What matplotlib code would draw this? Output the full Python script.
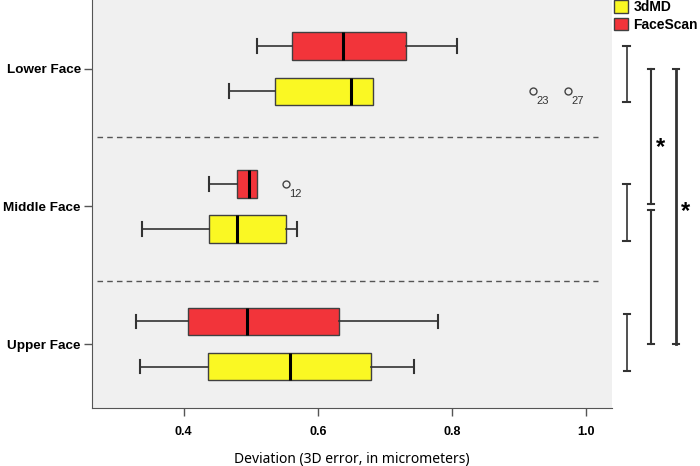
import matplotlib.pyplot as plt
import matplotlib.transforms as mtransforms
from matplotlib.patches import Patch

plt.rcParams['font.family'] = ['Noto Sans', 'DejaVu Sans']
BOLD = ['Liberation Sans', 'DejaVu Sans']

regions = ["Upper Face", "Middle Face", "Lower Face"]
scanners = ["3dMD", "FaceScan"]
colors = {"3dMD": "#FAF823", "FaceScan": "#F2343A"}

# five-number summaries: whislo, q1, med, q3, whishi
stats_3dmd = {
    "Upper Face": [0.335, 0.436, 0.559, 0.680, 0.743],
    "Middle Face": [0.337, 0.438, 0.480, 0.553, 0.569],
    "Lower Face": [0.467, 0.536, 0.649, 0.682, 0.682],
}
stats_facescan = {
    "Upper Face": [0.328, 0.406, 0.494, 0.631, 0.780],
    "Middle Face": [0.438, 0.480, 0.497, 0.509, 0.509],
    "Lower Face": [0.509, 0.562, 0.637, 0.732, 0.808],
}
# outliers (value, case label)
outliers_3dmd = {"Lower Face": [(0.921, "23"), (0.974, "27")]}
outliers_facescan = {"Middle Face": [(0.552, "12")]}

fig = plt.figure(figsize=(7, 4.66), dpi=100)
ax = fig.add_axes([92 / 700, 58 / 466, 520 / 700, 408 / 466])
ax.set_facecolor("#F0F0F0")

offset = 0.164
width = 0.2
for scanner, stats, outl, sign in [("3dMD", stats_3dmd, outliers_3dmd, -1),
                                   ("FaceScan", stats_facescan, outliers_facescan, 1)]:
    for i, reg in enumerate(regions):
        lo, q1, med, q3, hi = stats[reg]
        fl = [v for v, _ in outl.get(reg, [])]
        pos = i + sign * offset
        bp = ax.bxp([{"whislo": lo, "q1": q1, "med": med, "q3": q3, "whishi": hi, "fliers": fl}],
                    positions=[pos], widths=width, vert=False, patch_artist=True,
                    boxprops=dict(facecolor=colors[scanner], edgecolor="#404040", linewidth=1),
                    medianprops=dict(color="black", linewidth=2.2),
                    whiskerprops=dict(color="#333333", linewidth=1.2),
                    capprops=dict(color="#333333", linewidth=1.5),
                    flierprops=dict(marker="o", markersize=5, markerfacecolor="none",
                                    markeredgecolor="#444444", markeredgewidth=1))
        # no cap where the whisker ends on the box
        if hi == q3:
            bp["caps"][1].set_visible(False)
        if lo == q1:
            bp["caps"][0].set_visible(False)
        for v, lab in outl.get(reg, []):
            ax.annotate(lab, (v, pos), xytext=(2.5, -7), textcoords="offset points",
                        fontsize=8, color="#333333", va="center", ha="left", family=BOLD)

for yd in [0.455, 1.505]:
    ax.plot([0.271, 1.018], [yd, yd], linestyle=(0, (4, 3)), color="#555555", linewidth=1)

ax.set_xlim(0.263, 1.039)
ax.set_ylim(-0.465, 2.50)
ax.set_xticks([0.4, 0.6, 0.8, 1.0])
ax.set_xticklabels(["0.4", "0.6", "0.8", "1.0"], fontweight="bold", fontsize=9, family=BOLD)
ax.set_yticks(range(len(regions)))
ax.set_yticklabels(regions, fontweight="bold", fontsize=9.7, family=BOLD)
ax.tick_params(axis="both", length=6, width=1, color="#555555", pad=2)
ax.tick_params(axis="x", pad=7)
ax.set_xlabel("Deviation (3D error, in micrometers)", fontsize=10, labelpad=10)
for s in ["top", "right"]:
    ax.spines[s].set_visible(False)
for s in ["left", "bottom"]:
    ax.spines[s].set_color("#555555")

# significance brackets on the right
trans = mtransforms.blended_transform_factory(fig.transFigure, ax.transData)
brackets = [
    (0.895, 1.758, 2.169, 1.2),
    (0.895, 0.749, 1.161, 1.2),
    (0.896, -0.194, 0.218, 1.2),
    (0.930, 1.018, 2.0, 1.5),
    (0.930, 0.0, 0.975, 1.5),
    (0.966, 0.0, 2.0, 2.0),
]
cap = 0.0045
for x, y0, y1, lw in brackets:
    ax.plot([x, x], [y0, y1], color="#333333", lw=lw, transform=trans, clip_on=False)
    for yy in (y0, y1):
        ax.plot([x - cap, x + cap], [yy, yy], color="#333333", lw=1.5, transform=trans, clip_on=False)
fig.text(0.943, 1.43, "*", transform=trans, fontsize=17, fontweight="bold", ha="center", va="center",
         family=BOLD)
fig.text(0.979, 0.96, "*", transform=trans, fontsize=17, fontweight="bold", ha="center", va="center",
         family=BOLD)

handles = [Patch(facecolor=colors[s], edgecolor="#404040", label=s) for s in scanners]
leg = fig.legend(handles=handles, loc="upper left", bbox_to_anchor=(611 / 700, 1.005),
                 frameon=False, prop={"weight": "bold", "size": 10, "family": BOLD},
                 handlelength=1.0, handleheight=1.0, handletextpad=0.4,
                 labelspacing=0.25, borderpad=0.2, borderaxespad=0)

fig.savefig("out.png", dpi=100)
